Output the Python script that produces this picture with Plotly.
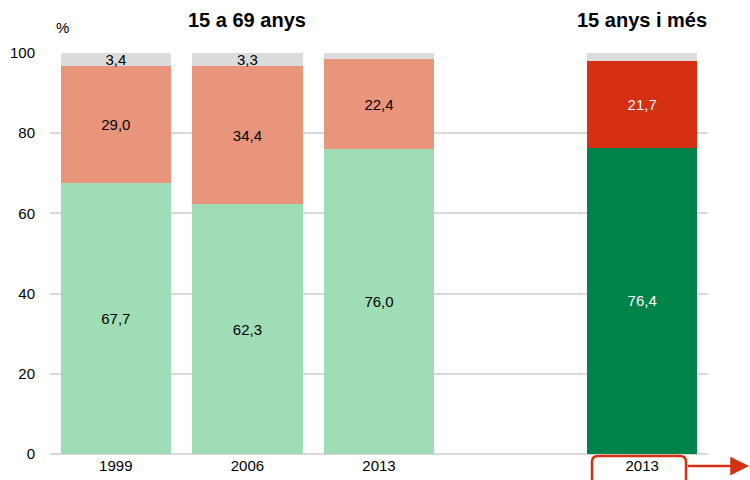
import plotly.graph_objects as go

positions = [0, 1, 2, 4]
tick_labels = ["1999", "2006", "2013", "2013"]
ocupats = [67.7, 62.3, 76.0, 76.4]
aturats = [29.0, 34.4, 22.4, 21.7]
altres = [3.4, 3.3, 1.6, 1.9]
altres_labels = ["3,4", "3,3", "", ""]

def fmt(v):
    return f"{v:.1f}".replace(".", ",")

green = ["#9FDDB7", "#9FDDB7", "#9FDDB7", "#00834A"]
salmon = ["#E8957B", "#E8957B", "#E8957B", "#D52F14"]
txt_green = ["black", "black", "black", "white"]
txt_salmon = ["black", "black", "black", "white"]

FONT = "Liberation Sans, Arial, sans-serif"
FS = 15

fig = go.Figure()
fig.add_bar(x=positions, y=ocupats, marker_color=green, width=0.84,
            text=[fmt(v) for v in ocupats], textposition="inside", insidetextanchor="middle",
            textfont=dict(color=txt_green, size=FS, family=FONT), constraintext="none",
            marker_line_width=0)
fig.add_bar(x=positions, y=aturats, marker_color=salmon, width=0.84,
            text=[fmt(v) for v in aturats], textposition="inside", insidetextanchor="middle",
            textfont=dict(color=txt_salmon, size=FS, family=FONT), constraintext="none",
            marker_line_width=0)
fig.add_bar(x=positions, y=altres, marker_color="#DCDCDC", width=0.84,
            text=altres_labels, textposition="inside", insidetextanchor="middle",
            textfont=dict(color="black", size=FS, family=FONT), constraintext="none",
            marker_line_width=0)

fig.update_layout(
    barmode="stack",
    width=750, height=480,
    margin=dict(l=50, r=42, t=53, b=26),
    plot_bgcolor="white", paper_bgcolor="white",
    showlegend=False,
    font=dict(family=FONT, size=FS, color="black"),
)
fig.update_xaxes(range=[-0.5, 4.5], tickvals=positions, ticktext=tick_labels,
                 showgrid=False, zeroline=False, showline=False, ticks="",
                 tickfont=dict(size=FS), ticklabelstandoff=1, automargin=False)
fig.update_yaxes(range=[0, 100], tickvals=[0, 20, 40, 60, 80, 100],
                 showgrid=True, gridcolor="#D9D9D9", gridwidth=1.5,
                 zeroline=True, zerolinecolor="#D9D9D9", zerolinewidth=1.5,
                 ticks="", tickfont=dict(size=FS), ticklabelstandoff=14, automargin=False)

fig.add_annotation(text="%", xref="paper", yref="paper", x=(62 - 50) / 658, y=(454 - 27) / 401,
                   showarrow=False, font=dict(size=FS), xanchor="center", yanchor="middle")
fig.add_annotation(text="<b>15 a 69 anys</b>", xref="x", yref="paper", x=1, y=(454 - 20) / 401,
                   showarrow=False, font=dict(size=20), xanchor="center", yanchor="middle")
fig.add_annotation(text="<b>15 anys i més</b>", xref="x", yref="paper", x=4, y=(454 - 20) / 401,
                   showarrow=False, font=dict(size=20), xanchor="center", yanchor="middle")

# rounded red box around last category label
def px(xp):
    return (xp - 50) / 658
def py(yp):
    return (454 - yp) / 401
x0, x1, y0, y1, r = px(592), px(686), py(456), py(490), 6
rx, ry = r / 658, r / 401
path = (f"M {x0},{y1} L {x0},{y0 - ry} Q {x0},{y0} {x0 + rx},{y0} "
        f"L {x1 - rx},{y0} Q {x1},{y0} {x1},{y0 - ry} L {x1},{y1}")
fig.add_shape(type="path", path=path, xref="paper", yref="paper",
              line=dict(color="#D52F14", width=2.5))
fig.add_annotation(xref="paper", yref="paper", x=px(750), y=py(466), ax=-64, ay=0,
                   text="", showarrow=True, arrowhead=2, arrowsize=1.5, arrowwidth=2.5,
                   arrowcolor="#D52F14")

fig.write_html("out.html", config={"displayModeBar": False},
               post_script="document.body.style.margin='0';document.body.style.overflow='hidden';")
